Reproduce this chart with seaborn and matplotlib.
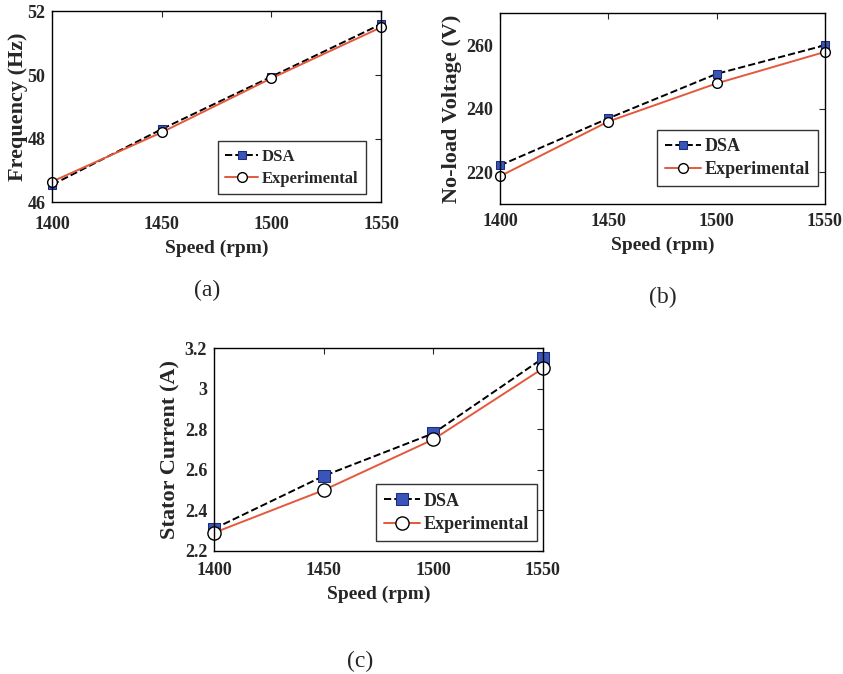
import pandas as pd
import numpy as np
import matplotlib.pyplot as plt
import seaborn as sns
import matplotlib as mpl

sns.set_style("white")
plt.rcParams['font.family'] = ['Liberation Serif', 'DejaVu Serif']
plt.rcParams['font.weight'] = 'bold'
mpl.rc("figure", facecolor="white")

speed = [1400, 1450, 1500, 1550]

freq_dsa = [46.55, 48.30, 49.95, 51.60]
freq_exp = [46.65, 48.20, 49.90, 51.50]

volt_dsa = [222.2, 237.0, 251.0, 260.0]
volt_exp = [218.8, 236.0, 248.0, 257.9]

curr_dsa = [2.31, 2.57, 2.78, 3.15]
curr_exp = [2.29, 2.50, 2.75, 3.10]

DSA_LINE = 'black'
DSA_FACE = '#3a55b8'
DSA_EDGE = '#1c2c7a'
EXP_LINE = '#e4583c'


def draw_panel(ax, dsa, exp, ylabel, ylim, yticks, ytick_labels, msize,
               ylab_x, leg_anchor, xpad, leg_fs):
    df = pd.DataFrame({
        'Speed': speed * 2,
        'Value': list(dsa) + list(exp),
        'Method': ['DSA'] * 4 + ['Experimental'] * 4,
    })
    sns.lineplot(data=df[df.Method == 'DSA'], x='Speed', y='Value', ax=ax,
                 color=DSA_LINE, linestyle='--', linewidth=1.4, marker='s',
                 markersize=msize * 0.85, markerfacecolor=DSA_FACE,
                 markeredgecolor=DSA_EDGE, label='DSA', clip_on=False)
    sns.lineplot(data=df[df.Method == 'Experimental'], x='Speed', y='Value', ax=ax,
                 color=EXP_LINE, linestyle='-', linewidth=1.4, marker='o',
                 markersize=msize, markerfacecolor='white',
                 markeredgecolor='black', markeredgewidth=1.0, label='Experimental',
                 clip_on=False)
    ax.set_xlim(1400, 1550)
    ax.set_ylim(*ylim)
    ax.set_xticks(speed)
    ax.set_xticklabels([str(s) for s in speed], fontsize=13, fontweight='bold')
    ax.set_yticks(yticks)
    ax.set_yticklabels(ytick_labels, fontsize=13, fontweight='bold')
    ax.tick_params(direction='in', top=True, right=True, length=4, width=0.8)
    ax.tick_params(axis='x', pad=xpad)
    ax.tick_params(axis='y', pad=5)
    ax.set_xlabel('Speed (rpm)', fontsize=14, fontweight='bold', labelpad=5)
    ax.set_ylabel(ylabel, fontsize=16, fontweight='bold')
    ax.yaxis.set_label_coords(ylab_x, 0.5)
    for sp in ax.spines.values():
        sp.set_linewidth(1.0)
        sp.set_color('black')
    leg = ax.legend(loc='lower right', bbox_to_anchor=leg_anchor, borderaxespad=0,
                    fontsize=leg_fs, frameon=True, fancybox=False,
                    edgecolor='black', handlelength=2.0, borderpad=0.45,
                    labelspacing=0.35, handletextpad=0.2)
    leg.get_frame().set_linewidth(1.0)
    for t in leg.get_texts():
        t.set_fontweight('bold')


fig = plt.figure(figsize=(8.43, 6.74), dpi=100)

ax_a = fig.add_axes([0.062, 0.700, 0.390, 0.283])
draw_panel(ax_a, freq_dsa, freq_exp, 'Frequency (Hz)', (46, 52),
           [46, 48, 50, 52], ['46', '48', '50', '52'], 7,
           -0.073, (0.954, 0.042), 10, 12)

ax_b = fig.add_axes([0.593, 0.697, 0.3855, 0.283])
draw_panel(ax_b, volt_dsa, volt_exp, 'No-load Voltage (V)', (210, 270),
           [220, 240, 260], ['220', '240', '260'], 7,
           -0.117, (0.978, 0.094), 6, 13)

ax_c = fig.add_axes([0.254, 0.1825, 0.390, 0.301])
draw_panel(ax_c, curr_dsa, curr_exp, 'Stator Current (A)', (2.2, 3.2),
           [2.2, 2.4, 2.6, 2.8, 3.0, 3.2], ['2.2', '2.4', '2.6', '2.8', '3', '3.2'], 9.5,
           -0.103, (0.982, 0.049), 8, 13)

fig.text(207 / 843, 1 - 290 / 674, '(a)', ha='center', va='center', fontsize=17,
         fontweight='normal')
fig.text(663 / 843, 1 - 297 / 674, '(b)', ha='center', va='center', fontsize=17,
         fontweight='normal')
fig.text(360 / 843, 1 - 661 / 674, '(c)', ha='center', va='center', fontsize=17,
         fontweight='normal')

fig.savefig('out.png', dpi=100)
